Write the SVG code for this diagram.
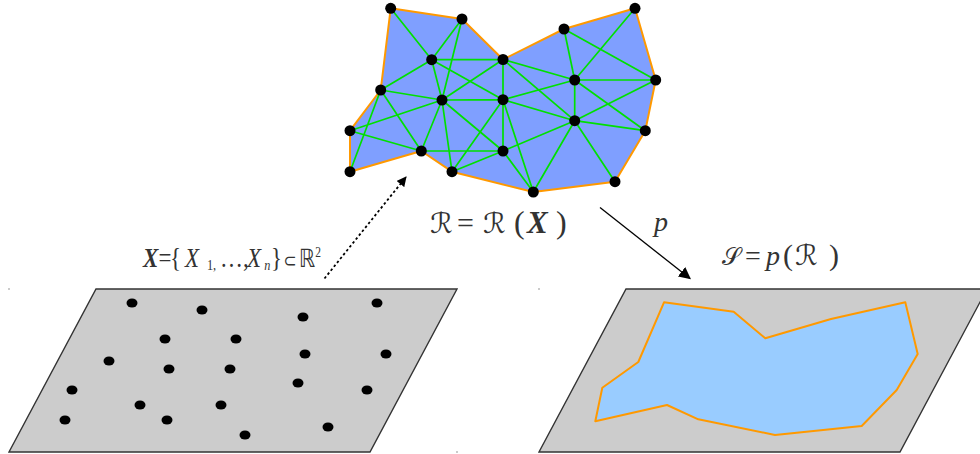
<svg xmlns="http://www.w3.org/2000/svg" width="980" height="454" viewBox="0 0 980 454">
<defs>
<style>
.plane{fill:#CCCCCC;stroke:#333333;stroke-width:1.4}
.pt{fill:#000000}
.edge{stroke:#00E000;stroke-width:1.7;fill:none}
.bnd{fill:#7F9FFF;stroke:#FF9900;stroke-width:2;stroke-linejoin:round}
.lbl{font-family:"Liberation Serif","DejaVu Serif",serif;fill:#333333}
.sym{font-family:"DejaVu Serif","DejaVu Sans",serif}
.tick{fill:#888888}
</style>
<marker id="ah" viewBox="0 0 10 10" refX="9" refY="5" markerWidth="10" markerHeight="10" markerUnits="userSpaceOnUse" orient="auto">
<path d="M0,0 L10,5 L0,10 Z" fill="#000000"/>
</marker>
<marker id="ah2" viewBox="0 0 10 10" refX="9" refY="5" markerWidth="12" markerHeight="12" markerUnits="userSpaceOnUse" orient="auto">
<path d="M0,0 L10,5 L0,10 Z" fill="#000000"/>
</marker>
</defs>

<g id="plane-X">
<polygon class="plane" points="96,289 457,289 370,452 9,452"/>
<g id="points-X">
<ellipse class="pt" cx="132" cy="303" rx="5.5" ry="4.5"/>
<ellipse class="pt" cx="202" cy="310" rx="5.5" ry="4.5"/>
<ellipse class="pt" cx="377" cy="303" rx="5.5" ry="4.5"/>
<ellipse class="pt" cx="303" cy="317" rx="5.5" ry="4.5"/>
<ellipse class="pt" cx="165" cy="339" rx="5.5" ry="4.5"/>
<ellipse class="pt" cx="236" cy="339" rx="5.5" ry="4.5"/>
<ellipse class="pt" cx="109" cy="361" rx="5.5" ry="4.5"/>
<ellipse class="pt" cx="169" cy="369" rx="5.5" ry="4.5"/>
<ellipse class="pt" cx="230" cy="369" rx="5.5" ry="4.5"/>
<ellipse class="pt" cx="305" cy="354" rx="5.5" ry="4.5"/>
<ellipse class="pt" cx="386" cy="354" rx="5.5" ry="4.5"/>
<ellipse class="pt" cx="298" cy="383" rx="5.5" ry="4.5"/>
<ellipse class="pt" cx="72" cy="390" rx="5.5" ry="4.5"/>
<ellipse class="pt" cx="367" cy="390" rx="5.5" ry="4.5"/>
<ellipse class="pt" cx="140" cy="405" rx="5.5" ry="4.5"/>
<ellipse class="pt" cx="221" cy="405" rx="5.5" ry="4.5"/>
<ellipse class="pt" cx="65" cy="420" rx="5.5" ry="4.5"/>
<ellipse class="pt" cx="167" cy="420" rx="5.5" ry="4.5"/>
<ellipse class="pt" cx="245" cy="435" rx="5.5" ry="4.5"/>
<ellipse class="pt" cx="328" cy="427" rx="5.5" ry="4.5"/>
</g>
<circle class="tick" cx="9" cy="289" r="0.8"/>
<circle class="tick" cx="457" cy="452" r="0.8"/>
</g>

<g id="plane-S">
<polygon class="plane" points="626,289 987,289 900,452 539,452"/>
<polygon class="bnd" style="fill:#99CCFF" points="664,302.3 733.7,311.7 765.3,338.3 831,319 905.3,302.3 917.7,354 896.7,390 861.7,426 775,435 698.3,419.3 667,405 595.3,421.3 602.3,387.7 638.3,362"/>
<circle class="tick" cx="539" cy="289" r="0.8"/>
</g>

<g id="mesh-R">
<polygon class="bnd" points="390.7,8.3 462,19 503,59.5 564,29 635,8.3 655.7,80 645.3,130.7 615,181.7 533.3,192 452,171.7 421.3,151 350,171.7 350,130.7 380.7,90"/>
<g id="mesh-edges">
<path class="edge" d="M390.7,8.3L431.7,59.7 M462,19L431.7,59.7 M462,19L442,100 M431.7,59.7L503,59.5 M431.7,59.7L380.7,90 M431.7,59.7L442,100 M431.7,59.7L503,99.7 M503,59.5L442,100 M380.7,90L442,100 M380.7,90L421.3,151 M380.7,90L350,171.7 M442,100L503,99.7 M442,100L350,130.7 M442,100L421.3,151 M442,100L503,151 M442,100L452,171.7 M503,99.7L452,171.7 M350,130.7L421.3,151 M421.3,151L503,151 M503,151L452,171.7 M503,59.5L503,99.7 M503,99.7L503,151 M503,151L533.3,192 M503,99.7L533.3,192 M503,151L574.7,120.7 M564,29L574.7,80 M503,59.5L574.7,80 M503,59.5L574.7,120.7 M635,8.3L574.7,80 M564,29L655.7,80 M574.7,80L655.7,80 M574.7,80L503,99.7 M574.7,80L574.7,120.7 M574.7,80L645.3,130.7 M655.7,80L574.7,120.7 M574.7,120.7L645.3,130.7 M574.7,120.7L503,99.7 M574.7,120.7L533.3,192 M574.7,120.7L615,181.7"/>
</g>
<g id="mesh-nodes">
<circle class="pt" cx="390.7" cy="8.3" r="5.5"/>
<circle class="pt" cx="462" cy="19" r="5.5"/>
<circle class="pt" cx="431.7" cy="59.7" r="5.5"/>
<circle class="pt" cx="503" cy="59.5" r="5.5"/>
<circle class="pt" cx="380.7" cy="90" r="5.5"/>
<circle class="pt" cx="442" cy="100" r="5.5"/>
<circle class="pt" cx="503" cy="99.7" r="5.5"/>
<circle class="pt" cx="350" cy="130.7" r="5.5"/>
<circle class="pt" cx="421.3" cy="151" r="5.5"/>
<circle class="pt" cx="503" cy="151" r="5.5"/>
<circle class="pt" cx="350" cy="171.7" r="5.5"/>
<circle class="pt" cx="452" cy="171.7" r="5.5"/>
<circle class="pt" cx="564" cy="29" r="5.5"/>
<circle class="pt" cx="635" cy="8.3" r="5.5"/>
<circle class="pt" cx="574.7" cy="80" r="5.5"/>
<circle class="pt" cx="655.7" cy="80" r="5.5"/>
<circle class="pt" cx="574.7" cy="120.7" r="5.5"/>
<circle class="pt" cx="645.3" cy="130.7" r="5.5"/>
<circle class="pt" cx="533.3" cy="192" r="5.5"/>
<circle class="pt" cx="615" cy="181.7" r="5.5"/>
</g>
</g>

<g id="connectors">
<line x1="324.5" y1="278.5" x2="406" y2="177" stroke="#000000" stroke-width="1.8" stroke-dasharray="2.5,2.5" marker-end="url(#ah)"/>
<line x1="600" y1="207.5" x2="690" y2="278.5" stroke="#000000" stroke-width="1.3" marker-end="url(#ah2)"/>
</g>

<g id="label-X">
<text class="lbl" font-size="28" transform="translate(143,267) scale(0.82,1)"><tspan x="0" y="0" font-weight="bold" font-style="italic">X</tspan><tspan x="19">=</tspan><tspan x="33">{</tspan><tspan x="51.2" font-style="italic">X</tspan><tspan x="78" y="3" font-size="15">1,</tspan><tspan x="94" y="0">…,</tspan><tspan x="126.8" font-style="italic">X</tspan><tspan x="148" y="3" font-size="15" font-style="italic">n</tspan><tspan x="156" y="0">}</tspan><tspan x="171.5" font-family="DejaVu Sans" font-size="19">⊂</tspan><tspan x="190" font-family="DejaVu Sans" font-size="25">ℝ</tspan><tspan x="210" y="-10" font-size="14">2</tspan></text>
</g>

<g id="label-R">
<text class="lbl" y="233"><tspan x="430" class="sym" font-size="28">ℛ</tspan><tspan x="457" font-size="30">=</tspan><tspan x="483" class="sym" font-size="28">ℛ</tspan><tspan x="514" font-size="32">(</tspan><tspan x="527" font-size="31" font-weight="bold" font-style="italic">X</tspan><tspan x="556" font-size="32">)</tspan></text>
</g>

<g id="label-p">
<text class="lbl" x="654" y="231" font-size="28" font-style="italic">p</text>
</g>

<g id="label-S">
<text class="lbl" y="265"><tspan x="722" class="sym" font-size="24">𝒮</tspan><tspan x="745" font-size="28">=</tspan><tspan x="766" font-size="28" font-style="italic">p</tspan><tspan x="783" font-size="30">(</tspan><tspan x="795" class="sym" font-size="28">ℛ</tspan><tspan x="829" font-size="30">)</tspan></text>
</g>
</svg>
